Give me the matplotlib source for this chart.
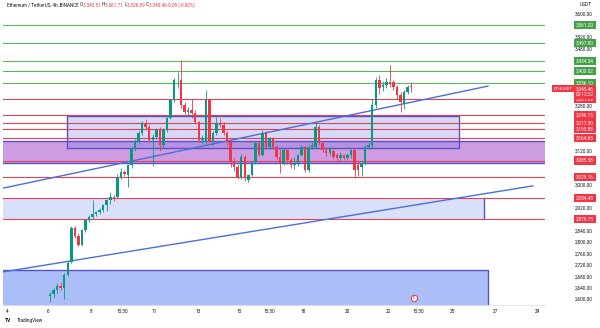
import numpy as np
import matplotlib
matplotlib.use("Agg")
import matplotlib.pyplot as plt
import matplotlib.transforms as mtransforms

plt.rcParams['font.family'] = ['Roboto', 'DejaVu Sans']

# 4h candles, ETHUSDT (open, high, low, close)
opens = [2610, 2618, 2632, 2645, 2640, 2684, 2730, 2849, 2821, 2789,
         2842, 2877, 2888, 2900, 2905, 2912, 2930, 2947, 2958, 2958,
         3028, 3046, 3035, 3070, 3130, 3151, 3182, 3218, 3204, 3158,
         3170, 3193, 3140, 3193, 3235, 3298, 3368, 3368, 3281, 3256,
         3262, 3253, 3221, 3158, 3151, 3298, 3151, 3182, 3218, 3211,
         3182, 3151, 3080, 3063, 3028, 3098, 3018, 3035, 3081, 3147,
         3105, 3182, 3133, 3165, 3133, 3098, 3077, 3123, 3088, 3070,
         3077, 3105, 3133, 3053, 3133, 3133, 3204, 3147, 3123, 3112,
         3120, 3105, 3095, 3105, 3095, 3105, 3123, 3070, 3063, 3077,
         3133, 3140, 3281, 3368, 3344, 3351, 3362, 3360, 3344, 3316,
         3284, 3327, 3345.51]
highs = [2625, 2640, 2655, 2660, 2690, 2735, 2855, 2855, 2830, 2845,
         2880, 2895, 2947, 2910, 2918, 2935, 2950, 2975, 2965, 3040,
         3060, 3052, 3075, 3135, 3160, 3190, 3225, 3230, 3215, 3180,
         3200, 3205, 3200, 3240, 3300, 3375, 3395, 3439, 3290, 3275,
         3300, 3262, 3225, 3175, 3333, 3300, 3190, 3238, 3235, 3220,
         3190, 3160, 3095, 3075, 3110, 3105, 3040, 3085, 3150, 3155,
         3193, 3190, 3170, 3170, 3140, 3125, 3130, 3128, 3095, 3098,
         3110, 3140, 3140, 3140, 3150, 3221, 3210, 3155, 3130, 3135,
         3128, 3112, 3115, 3110, 3112, 3128, 3130, 3080, 3080, 3140,
         3150, 3300, 3380, 3386, 3365, 3375, 3421, 3370, 3350, 3325,
         3335, 3350, 3361.71]
lows = [2590, 2605, 2620, 2630, 2600, 2680, 2725, 2815, 2785, 2785,
        2835, 2870, 2880, 2890, 2898, 2905, 2910, 2935, 2945, 2955,
        3020, 3030, 2993, 3060, 3120, 3145, 3175, 3195, 3150, 3065,
        3160, 3120, 3130, 3185, 3230, 3290, 3340, 3270, 3250, 3245,
        3235, 3215, 3150, 3145, 3145, 3150, 3140, 3175, 3205, 3175,
        3140, 3063, 3050, 3020, 3020, 3015, 3010, 3030, 3075, 3100,
        3100, 3125, 3125, 3125, 3090, 3042, 3070, 3075, 3060, 3055,
        3065, 3100, 3045, 3045, 3125, 3125, 3140, 3115, 3100, 3105,
        3090, 3085, 3085, 3088, 3088, 3095, 3025, 3030, 3030, 3070,
        3125, 3130, 3270, 3320, 3330, 3340, 3345, 3335, 3300, 3256,
        3265, 3320, 3326.89]
closes = [2618, 2632, 2645, 2640, 2684, 2726, 2849, 2821, 2789, 2842,
          2877, 2888, 2900, 2905, 2912, 2930, 2947, 2958, 2955, 3025,
          3046, 3038, 3070, 3130, 3151, 3182, 3218, 3204, 3158, 3170,
          3193, 3140, 3193, 3235, 3298, 3368, 3370, 3281, 3256, 3262,
          3253, 3221, 3158, 3165, 3298, 3151, 3182, 3218, 3211, 3182,
          3151, 3080, 3063, 3028, 3098, 3025, 3035, 3081, 3147, 3105,
          3182, 3133, 3165, 3133, 3098, 3077, 3123, 3088, 3070, 3077,
          3105, 3133, 3053, 3133, 3140, 3204, 3147, 3123, 3112, 3130,
          3098, 3095, 3105, 3095, 3105, 3123, 3053, 3053, 3077, 3133,
          3140, 3281, 3368, 3340, 3351, 3362, 3355, 3344, 3316, 3290,
          3327, 3344, 3345.46]

# horizontal levels
green_levels = [3561.20, 3497.80, 3434.54, 3400.02, 3356.10]
red_levels = [3301.09, 3246.15, 3217.50, 3195.88, 3164.65, 3085.58,
              3029.16, 2954.45, 2879.75]
last_price = 3345.46
countdown = "00:13:22"

# drawn zones (x in candle index, y in price)
zone_box = (4.8, 115.5, 3130, 3242)      # lavender box
zone_band = (3078, 3156)                  # purple band, full width
zone_light = (122.6, 2879.75, 2954.45)    # light blue box (right edge, low, high)
zone_low = (123.7, 2702)                  # blue box at the bottom (right edge, top)

# trend lines
trend1_x = [-13.3, 123.7]
trend1_y = [2989, 3347]
trend2_x = [-13.3, 136.4]
trend2_y = [2695, 2997]

price_ticks = [3600, 3520, 3480, 3280, 3120, 3000, 2920, 2840, 2800,
               2760, 2720, 2680, 2640, 2600]
date_pos = [-12.1, -0.6, 11.6, 20.3, 29.4, 41.8, 53.4, 62.1, 71.5, 83.9,
            95.5, 104.0, 113.6, 125.7, 137.6]
date_labels = ['4', '6', '8', '15:30', '11', '13', '15', '15:30', '18', '20',
               '22', '15:30', '25', '27', '29']

UP = '#089981'
DOWN = '#f23645'
GREEN_LINE = '#5cb85f'
RED_LINE = '#e04257'
PURPLE = '#5a50c8'

fig = plt.figure(figsize=(6, 3.28), dpi=100)
ax = fig.add_axes([0.005, 0.0701, 0.9033, 0.9299])
x0, x1 = -13.3, 139.8
ax.set_xlim(x0, x1)
ax.set_ylim(2579, 3649)

# zones
ax.axhspan(zone_band[0], zone_band[1], color='#a64dc9', alpha=0.55, lw=0, zorder=1)
ax.axhline(zone_band[0], color=PURPLE, lw=1.0, zorder=1.5)
ax.axhline(zone_band[1], color=PURPLE, lw=1.0, zorder=1.5)

bx0, bx1, by0, by1 = zone_box
ax.fill_between([bx0, bx1], by0, by1, color='#7e7ee6', alpha=0.3, lw=0, zorder=1.2)
ax.plot([bx0, bx1, bx1, bx0, bx0], [by0, by0, by1, by1, by0], color=PURPLE, lw=1.0, zorder=1.6)

ax.fill_between([x0, zone_light[0]], zone_light[1], zone_light[2], color='#6f8ff0',
                alpha=0.27, lw=0, zorder=1)
ax.plot([zone_light[0], zone_light[0]], [zone_light[1], zone_light[2]], color=PURPLE, lw=1.0, zorder=1.6)

ax.fill_between([x0, zone_low[0]], 2500, zone_low[1], color='#5b7ff0', alpha=0.5, lw=0, zorder=1)
ax.plot([x0, zone_low[0], zone_low[0]], [zone_low[1], zone_low[1], 2500], color=PURPLE, lw=1.0, zorder=1.6)

# levels
for lv in green_levels:
    ax.axhline(lv, color=GREEN_LINE, lw=0.8, zorder=1.7)
for lv in red_levels:
    ax.axhline(lv, color=RED_LINE, lw=0.8, zorder=1.7)

# trend lines
ax.plot(trend1_x, trend1_y, color='#4a6fd8', lw=1.0, zorder=1.8)
ax.plot(trend2_x, trend2_y, color='#4a6fd8', lw=1.0, zorder=1.8)

# candles
o = np.array(opens)
h = np.array(highs)
l = np.array(lows)
c = np.array(closes)
idx = np.arange(len(o))
cols = np.where(c >= o, UP, DOWN)
ax.vlines(idx, l, h, colors=cols, lw=0.6, zorder=3)
body = np.maximum(np.abs(c - o), 1.5)
ax.bar(idx, body, bottom=np.minimum(o, c), width=0.7, color=cols, lw=0, zorder=3.1)

# marker near the bottom
ax.plot([102.8], [2603], marker='o', ms=4.5, mfc='white', mec='#e04257', mew=0.8, zorder=4)
ax.text(102.8, 2603, 'E', fontsize=2.6, color='#e04257', ha='center', va='center', zorder=5)

# axes styling
for s in ['top', 'left', 'right']:
    ax.spines[s].set_visible(False)
ax.spines['bottom'].set_color('#e0e3eb')
ax.spines['bottom'].set_linewidth(0.6)
ax.yaxis.tick_right()
ax.set_yticks(price_ticks)
ax.set_yticklabels(['{:,.2f}'.format(t) for t in price_ticks])
ax.tick_params(axis='y', length=0, pad=21.5, labelsize=3.4, labelcolor='#131722')
ax.set_xticks(date_pos)
ax.set_xticklabels(date_labels)
ax.tick_params(axis='x', length=0, pad=3, labelsize=3.4, labelcolor='#131722')

# price scale labels
trans = mtransforms.blended_transform_factory(ax.transAxes, ax.transData)
lab_x = (576 - 3) / 542
for lv in green_levels:
    ax.text(lab_x, lv, '{:,.2f}'.format(lv), transform=trans, fontsize=3.4, color='white',
            va='center', ha='left', clip_on=False, zorder=6,
            bbox=dict(boxstyle='square,pad=0.35', fc='#43a047', ec='none'))
for lv in red_levels:
    ax.text(lab_x, lv, '{:,.2f}'.format(lv), transform=trans, fontsize=3.4, color='white',
            va='center', ha='left', clip_on=False, zorder=6,
            bbox=dict(boxstyle='square,pad=0.35', fc=DOWN, ec='none'))
ax.text(lab_x, last_price, '{:,.2f}\n{}'.format(last_price, countdown), transform=trans,
        fontsize=3.4, color='white', va='top', ha='left', clip_on=False, zorder=7,
        linespacing=1.2, bbox=dict(boxstyle='square,pad=0.35', fc=DOWN, ec='none'))
ax.text((554 - 3) / 542, last_price, 'ETHUSDT', transform=trans, fontsize=3.2, color='white',
        va='top', ha='left', clip_on=False, zorder=7,
        bbox=dict(boxstyle='square,pad=0.35', fc=DOWN, ec='none'))
ax.text((580 - 3) / 542, 0.985, 'USDT', transform=ax.transAxes, fontsize=3.4, color='#131722',
        va='center', ha='left', clip_on=False)

# legend line at the top left
pieces = [('Ethereum / TetherUS, 4h, BINANCE ', '#131722'), ('O', '#131722'), ('3,345.51 ', DOWN),
          ('H', '#131722'), ('3,361.71 ', DOWN), ('L', '#131722'), ('3,326.89 ', DOWN),
          ('C', '#131722'), ('3,345.46 ', DOWN), ('-0.05 (-0.00%)', DOWN)]
prev = ax.text(0.0074, 0.984, pieces[0][0], transform=ax.transAxes, fontsize=3.3,
               color=pieces[0][1], va='center', ha='left', zorder=8)
for txt, col in pieces[1:]:
    prev = ax.annotate(txt, xy=(1, 0.5), xycoords=prev, fontsize=3.3, color=col,
                       va='center', ha='left', zorder=8)

fig.text(0.009, 0.022, 'TV', fontsize=3.6, fontweight='bold', color='#131722', va='center')
fig.text(0.028, 0.022, 'TradingView', fontsize=3.4, color='#131722', va='center')

fig.savefig('out.png', dpi=100, facecolor='white')
